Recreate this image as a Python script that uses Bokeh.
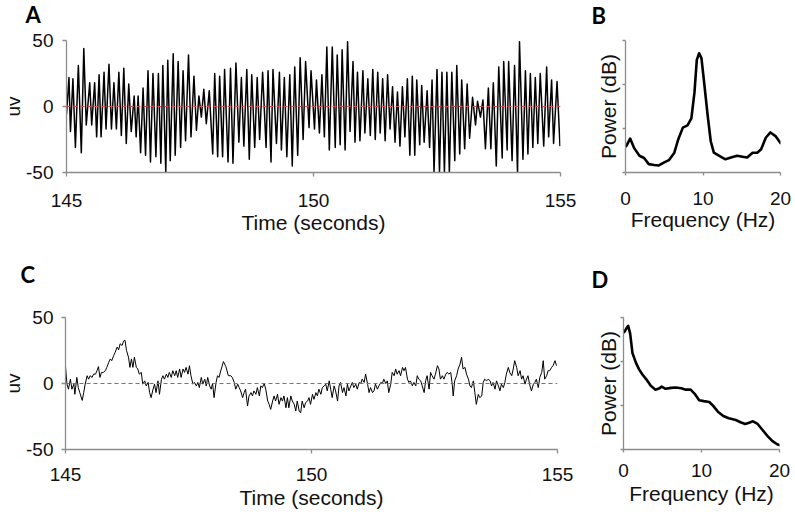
from bokeh.plotting import figure
from bokeh.layouts import column, row
from bokeh.models import FixedTicker, Span, Title
from bokeh.embed import file_html
from bokeh.resources import INLINE

# ---------------- data ----------------
# Panel A: alpha-dominated EEG trace (time in s, amplitude in uV)
a_t = [145.00, 145.05, 145.08, 145.13, 145.18, 145.24, 145.30, 145.35, 145.40, 145.47,
       145.51, 145.57, 145.61, 145.66, 145.70, 145.76, 145.80, 145.86, 145.91, 145.96,
       146.01, 146.06, 146.11, 146.16, 146.21, 146.26, 146.31, 146.37, 146.41, 146.45,
       146.50, 146.55, 146.60, 146.65, 146.70, 146.75, 146.81, 146.86, 146.91, 146.95,
       147.01, 147.05, 147.10, 147.16, 147.20, 147.26, 147.31, 147.36, 147.41, 147.47,
       147.52, 147.58, 147.63, 147.68, 147.73, 147.78, 147.83, 147.89, 147.96, 148.00,
       148.06, 148.10, 148.16, 148.20, 148.27, 148.32, 148.37, 148.43, 148.49, 148.54,
       148.59, 148.65, 148.70, 148.75, 148.81, 148.86, 148.91, 148.97, 149.04, 149.08,
       149.14, 149.18, 149.25, 149.31, 149.35, 149.41, 149.46, 149.52, 149.57, 149.62,
       149.68, 149.73, 149.79, 149.84, 149.91, 149.95, 150.02, 150.06, 150.12, 150.17,
       150.22, 150.27, 150.32, 150.38, 150.44, 150.48, 150.54, 150.58, 150.64, 150.69,
       150.74, 150.80, 150.84, 150.89, 150.94, 151.00, 151.04, 151.10, 151.15, 151.20,
       151.25, 151.30, 151.35, 151.40, 151.45, 151.50, 151.55, 151.60, 151.65, 151.70,
       151.75, 151.80, 151.85, 151.90, 151.95, 152.00, 152.05, 152.09, 152.15, 152.19,
       152.24, 152.30, 152.35, 152.40, 152.44, 152.50, 152.55, 152.60, 152.65, 152.70,
       152.75, 152.80, 152.86, 152.90, 152.96, 153.00, 153.06, 153.11, 153.16, 153.22,
       153.28, 153.32, 153.38, 153.43, 153.48, 153.54, 153.59, 153.64, 153.70, 153.75,
       153.82, 153.85, 153.92, 153.95, 154.02, 154.07, 154.13, 154.17, 154.24, 154.29,
       154.34, 154.39, 154.44, 154.49, 154.54, 154.59, 154.66, 154.72, 154.76, 154.82,
       154.86, 154.93, 154.99]
a_uv = [-6, 22, -19, 21, -31, 31, -35, 44, -14, 18,
        -14, 18, -23, 24, -23, 26, -17, 32, -17, 18,
        -17, 26, -22, 29, -28, 17, -19, 8, -23, 8,
        -35, 14, -37, 27, -42, 25, -38, 25, -43, 31,
        -50, 35, -41, 40, -37, 34, -31, 27, -26, 39,
        -23, 23, -18, 8, -8, 13, -13, 12, -36, 25,
        -38, 23, -38, 28, -42, 29, -43, 33, -27, 22,
        -30, 28, -40, 24, -31, 22, -25, 26, -31, 27,
        -42, 28, -28, 26, -33, 22, -38, 24, -45, 30,
        -37, 37, -25, 34, -16, 27, -17, 20, -20, 24,
        -23, 45, -33, 45, -31, 39, -29, 43, -33, 49,
        -19, 34, -27, 26, -26, 27, -20, 21, -22, 28,
        -25, 26, -20, 21, -26, 24, -17, 15, -27, 11,
        -30, 15, -23, 21, -37, 23, -37, 20, -29, 16,
        -27, 12, -31, 20, -50, 28, -50, 26, -50, 26,
        -50, 26, -41, 31, -36, 20, -32, 17, -24, 7,
        -14, 4, -8, 5, -32, 14, -32, 18, -45, 30,
        -39, 34, -33, 34, -41, 31, -50, 49, -40, 27,
        -36, 25, -31, 22, -28, 25, -30, 30, -23, 20,
        -28, 19, -30]

# Panel B: power spectrum of A (Hz, dB in tick units)
b_f = [0.1, 0.6, 1.1, 1.8, 2.4, 3.0, 3.7, 4.3, 5.0, 5.6, 6.3, 6.8, 7.4, 8.0, 8.5, 8.9, 9.2, 9.5,
       9.8, 10.1, 10.6, 11.0, 11.4, 12.1, 12.9, 13.6, 14.4, 15.1, 15.7, 16.4, 17.0, 17.5, 18.1,
       18.7, 19.4, 20.0]
b_db = [6.0, 7.7, 5.6, 3.8, 3.3, 1.9, 1.7, 1.6, 2.3, 2.8, 4.5, 7.5, 10.2, 10.7, 12.3, 18.2, 25.6,
        27.1, 26.0, 21.2, 13.0, 7.1, 4.5, 3.8, 3.0, 3.4, 3.8, 3.6, 3.4, 4.5, 4.5, 5.3, 7.9, 9.1,
        8.2, 6.7]

# Panel C: broadband trace
c_t = [145.00, 145.03, 145.06, 145.10, 145.13, 145.17, 145.19, 145.23, 145.26, 145.29,
       145.34, 145.37, 145.40, 145.44, 145.47, 145.50, 145.54, 145.57, 145.61, 145.64,
       145.67, 145.70, 145.73, 145.77, 145.81, 145.84, 145.88, 145.91, 145.94, 145.98,
       146.01, 146.05, 146.08, 146.11, 146.15, 146.18, 146.21, 146.24, 146.28, 146.31,
       146.34, 146.37, 146.40, 146.44, 146.47, 146.50, 146.54, 146.57, 146.61, 146.64,
       146.68, 146.71, 146.74, 146.78, 146.81, 146.84, 146.88, 146.91, 146.95, 146.98,
       147.01, 147.05, 147.08, 147.11, 147.15, 147.18, 147.22, 147.25, 147.28, 147.32,
       147.35, 147.39, 147.42, 147.45, 147.49, 147.52, 147.55, 147.59, 147.62, 147.66,
       147.69, 147.72, 147.76, 147.79, 147.83, 147.86, 147.89, 147.93, 147.96, 147.99,
       148.02, 148.06, 148.09, 148.12, 148.16,
       148.21, 148.26, 148.31, 148.36, 148.39, 148.43, 148.46, 148.50, 148.53, 148.56,
       148.60, 148.63, 148.66, 148.70, 148.73, 148.77, 148.80, 148.83, 148.87, 148.90,
       148.94, 148.97, 149.00, 149.04, 149.07, 149.11, 149.14, 149.17, 149.21, 149.24,
       149.27, 149.31, 149.34, 149.38, 149.41, 149.44, 149.48, 149.51, 149.54, 149.58,
       149.61, 149.65, 149.68, 149.71, 149.75, 149.78, 149.81, 149.85, 149.88, 149.92,
       149.95, 149.98, 150.02, 150.05, 150.09, 150.12, 150.15, 150.19, 150.22, 150.26,
       150.29, 150.32, 150.36, 150.39, 150.42, 150.46, 150.49, 150.53, 150.56, 150.59,
       150.63, 150.66, 150.70, 150.73, 150.76, 150.80, 150.83, 150.86, 150.90, 150.93,
       150.97, 151.00, 151.03, 151.07, 151.10, 151.14, 151.17, 151.20, 151.24, 151.27,
       151.30, 151.34, 151.37, 151.41, 151.44, 151.47, 151.51, 151.54, 151.57, 151.61,
       151.64, 151.68, 151.71, 151.74, 151.78, 151.81, 151.85, 151.88, 151.91, 151.95,
       151.98, 152.01, 152.05, 152.08, 152.12, 152.15, 152.18, 152.22, 152.25, 152.29,
       152.32, 152.35, 152.39, 152.42, 152.45, 152.49, 152.52, 152.56, 152.59, 152.62,
       152.66, 152.69, 152.73, 152.76, 152.79, 152.83, 152.86, 152.88,
       152.91, 152.95, 152.98, 153.02, 153.05, 153.08, 153.12, 153.15, 153.19, 153.22,
       153.25, 153.29, 153.32, 153.35, 153.39, 153.42, 153.46, 153.49, 153.52, 153.56,
       153.59, 153.63, 153.66, 153.69, 153.73, 153.76, 153.80, 153.83, 153.86, 153.90,
       153.93, 153.96, 154.00, 154.03, 154.07, 154.10, 154.13, 154.17, 154.20, 154.24,
       154.27, 154.30, 154.34, 154.37, 154.40, 154.44, 154.47, 154.51, 154.54, 154.57,
       154.61, 154.64, 154.68, 154.71, 154.74, 154.78, 154.81, 154.84, 154.88, 154.91,
       154.95, 154.98]
c_uv = [12.8, -0.5, -4.3, 3.3, -4.3, -0.5, -8.2, 4.6, -3.1, -6.9,
        -12.8, -6.9, -0.5, 5.9, 3.3, 5.9, 4.6, 7.1, 7.1, 9.7,
        12.8, 4.6, 8.4, 8.4, 9.7, 12.2, 16.1, 18.6, 17.3, 21.2,
        23.7, 27.6, 25.5, 30.1, 28.8, 32.1, 32.7, 25.0, 19.9, 12.2,
        18.6, 12.2, 19.9, 12.2, 11.0, 7.1, 8.4, -0.5, 2.0, -1.8,
        0.8, -6.9, -10.7, -4.3, -0.5, -6.9, 2.0, -8.2, 3.3, 5.9,
        3.3, 7.1, 4.6, 8.4, 4.6, 9.7, 5.9, 9.7, 4.6, 11.0,
        4.6, 11.0, 8.4, 12.2, 7.1, 13.5, 5.9, -0.5, 0.8, -1.8,
        0.8, -3.1, 4.6, -0.5, 3.3, -1.8, 4.6, -1.8, -4.3, 0.0,
        -10.7, 0.8, 5.9, 4.6, 10.2,
        16.6, 12.8, 5.9, 5.9, 4.6, 0.8, -4.3, -0.5, -3.1, -5.6,
        -10.7, -6.9, -4.3, -17.1, -9.4, -6.9, -9.4, -5.6, -8.2, -3.1,
        -9.4, -1.8, -3.1, 0.0, -4.3, -13.3, -15.8, -19.6, -13.3, -9.4,
        -13.3, -8.2, -15.8, -10.7, -13.3, -9.4, -18.4, -10.7, -18.4, -9.4,
        -13.3, -15.8, -20.9, -13.3, -20.9, -22.2, -13.3, -18.4, -14.5, -13.3,
        -10.7, -15.8, -8.2, -12.0, -6.9, -9.4, -4.3, -8.2, -3.1, -1.8,
        -0.5, -5.6, 2.0, -4.3, -10.7, -1.8, -5.6, -13.3, -1.8, 0.8,
        -6.9, -3.1, -9.4, -0.5, -5.6, -1.8, 0.8, -3.1, -0.5, -4.3,
        0.8, 0.0, 3.3, 0.8, 7.1, -0.5, -6.9, -3.1, -6.9, -5.6,
        -0.5, -4.3, -1.8, 0.8, 0.0, 3.3, 0.0, 2.0, -6.9, -0.5,
        8.4, 5.9, 11.0, 7.1, 9.7, 5.9, 12.2, 9.7, 12.2, 3.3,
        0.8, 2.0, -1.8, 0.8, -1.8, 5.9, 3.3, 2.0, -1.8, -6.9,
        2.0, 5.9, -4.3, 8.4, 5.9, 3.3, 7.1, 13.5, 11.0, 3.3,
        5.9, 3.3, 7.1, 8.4, 7.1, 8.4, -0.5, -9.4,
        2.0, 5.9, 11.0, 14.8, 19.9, 11.0, 12.2, 7.1, 3.3, -1.8,
        -3.1, 2.0, -6.9, -15.8, -8.2, -10.7, -9.4, 0.8, 3.3, 2.0,
        3.3, 2.0, -1.8, 0.8, -4.3, 2.0, -1.8, -5.6, -0.5, -3.1,
        0.8, 7.1, 12.2, 8.4, 5.9, 11.0, 17.3, 12.2, 5.9, 9.7,
        3.3, 5.9, -0.5, 3.3, 5.9, -1.8, -5.6, -0.5, 0.8, 3.3,
        -3.1, 4.6, 8.4, 17.3, 3.3, 5.9, 9.7, 9.7, 12.2, 13.5,
        17.3, 13.5]

# Panel D: power spectrum of C
d_f = [0.1, 0.4, 0.6, 0.85, 1.15, 1.6, 2.0, 2.4, 2.9, 3.5, 4.1, 4.6, 4.9, 5.4, 6.1, 6.7, 7.4,
       8.0, 8.6, 9.1, 9.7, 10.3, 11.0, 11.5, 12.1, 12.8, 13.5, 14.4, 15.0, 15.6, 16.1, 16.6,
       17.2, 17.8, 18.5, 19.1, 19.7, 20.0]
d_db = [26.7, 27.6, 28.1, 26.4, 21.9, 19.7, 18.2, 17.1, 16.0, 14.5, 13.6, 13.9, 14.3, 13.8,
        14.0, 14.1, 13.9, 13.6, 13.6, 12.7, 11.2, 11.0, 10.8, 9.9, 8.6, 7.6, 7.1, 6.7, 6.2,
        5.8, 6.1, 6.4, 5.8, 4.5, 3.0, 1.9, 1.2, 1.0]

time_ticks = [145, 150, 155]
uv_ticks = [-50, 0, 50]
uv_tick_labels = {-50: "-50", 0: "0", 50: "50"}
freq_ticks = [0, 10, 20]
power_ticks = [0, 10, 20, 30]

# ---------------- styling ----------------
SANS = "Liberation Sans"
BOLD = "Lato"
AX = "#8c8c8c"
TXT = "#111111"


def make_fig(w, h, xr, yr, lb, rb, tb, bb):
    p = figure(width=w, height=h, x_range=xr, y_range=yr, output_backend="svg",
               toolbar_location=None, min_border_left=lb, min_border_right=rb,
               min_border_top=tb, min_border_bottom=bb)
    p.xgrid.visible = False
    p.ygrid.visible = False
    p.outline_line_color = None
    for ax in (p.xaxis[0], p.yaxis[0]):
        ax.axis_line_color = AX
        ax.axis_line_width = 1.3
        ax.major_tick_line_color = AX
        ax.major_tick_line_width = 1.3
        ax.major_tick_in = 0
        ax.major_tick_out = 4
        ax.minor_tick_line_color = None
        ax.major_label_text_font = SANS
        ax.major_label_text_font_size = "19px"
        ax.major_label_text_color = TXT
        ax.axis_label_text_font = SANS
        ax.axis_label_text_font_size = "21px"
        ax.axis_label_text_font_style = "normal"
        ax.axis_label_text_color = TXT
    return p


def letter(p, txt, offset, gap):
    # spacer (innermost) keeps the panel letter high above the frame
    p.add_layout(Title(text=" ", text_font_size="1px", standoff=gap), "above")
    p.add_layout(Title(text=txt, align="left", vertical_align="top", offset=offset,
                       standoff=0, text_font=BOLD, text_font_style="bold",
                       text_font_size="22px", text_color="black"), "above")


def trace_panel(w, h, lb, rb, tb, bb, t, v, lw, xs1, xs2, ys1, ys2):
    p = make_fig(w, h, (145, 155), (-50, 50), lb, rb, tb, bb)
    p.xaxis[0].ticker = FixedTicker(ticks=time_ticks)
    p.yaxis[0].ticker = FixedTicker(ticks=uv_ticks)
    p.yaxis[0].major_label_overrides = uv_tick_labels
    p.xaxis[0].major_label_standoff = xs1
    p.xaxis[0].axis_label_standoff = xs2
    p.yaxis[0].major_label_standoff = ys1
    p.yaxis[0].axis_label_standoff = ys2
    p.yaxis[0].axis_label_text_font_size = "19px"
    p.xaxis[0].axis_label = "Time (seconds)"
    p.yaxis[0].axis_label = "uv"
    p.add_layout(Span(location=0, dimension="width", line_color="#e0474c",
                      line_dash="4 3", line_width=1.2))
    p.line(t, v, line_color="black", line_width=lw, line_join="round")
    return p


def spec_panel(w, h, lb, rb, tb, bb, f, db, xs1, xs2, ys2):
    p = make_fig(w, h, (0, 20), (0, 30), lb, rb, tb, bb)
    p.xaxis[0].ticker = FixedTicker(ticks=freq_ticks)
    p.yaxis[0].ticker = FixedTicker(ticks=power_ticks)
    p.xaxis[0].major_tick_out = 3
    p.yaxis[0].major_tick_out = 3
    p.yaxis[0].major_label_overrides = {t: "" for t in power_ticks}
    p.yaxis[0].major_label_standoff = 0
    p.yaxis[0].axis_label_standoff = ys2
    p.xaxis[0].major_label_standoff = xs1
    p.xaxis[0].axis_label_standoff = xs2
    p.xaxis[0].axis_label = "Frequency (Hz)"
    p.yaxis[0].axis_label = "Power (dB)"
    p.line(f, db, line_color="black", line_width=2.6, line_join="round", line_cap="round")
    return p


pA = trace_panel(590, 250, 66, 30, 40, 78, a_t, a_uv, 1.5, 17, 1, 9, -1)
letter(pA, "A", -41, 8)

pB = spec_panel(205, 250, 35, 15, 37, 78, b_f, b_db, 16, 0, 3)
letter(pB, "B", -34, 7)

pC = trace_panel(590, 266, 65, 33, 67, 67, c_t, c_uv, 1.0, 14, 2, 8, -1)
letter(pC, "C", -45, 25)

pD = spec_panel(205, 266, 33, 16, 63, 67, d_f, d_db, 11, 2, 1)
letter(pD, "D", -32, 20)

layout = column(row(pA, pB), row(pC, pD))

open("out.html", "w").write(file_html(layout, INLINE))
